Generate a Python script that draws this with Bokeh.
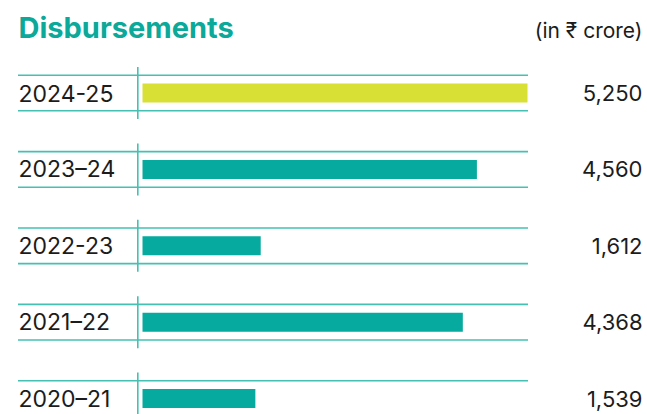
import numpy as np
from bokeh.plotting import figure
from bokeh.models import ColumnDataSource, Range1d, Label
from bokeh.core.properties import value
from bokeh.embed import file_html
from bokeh.resources import INLINE

# ---- data ----
years = ["2024-25", "2023–24", "2022-23", "2021–22", "2020–21"]
disbursements = [5250, 4560, 1612, 4368, 1539]
value_labels = [f"{v:,}" for v in disbursements]
title_text = "Disbursements"
unit_text = "(in ₹ crore)"

# ---- style / layout ----
TEAL = "#06aa9e"
YELLOW = "#d8e035"
LINE = "#45c0b3"
INK = "#1c1c1c"
FONT = "Inter"
bar_colors = [YELLOW] + [TEAL] * (len(years) - 1)

W, H = 647, 414
BAR_X0_PX, BAR_X1_PX = 142, 527      # pixel span of the largest bar
ROW_PX = 76.4                         # pixels per row
FIRST_ROW_PX = 92.5                   # canvas y of first row centre

scale = (BAR_X1_PX - BAR_X0_PX) / max(disbursements)   # px per unit
def xd(px):
    return (px - BAR_X0_PX) / scale

y_end = FIRST_ROW_PX / ROW_PX
y_start = y_end - H / ROW_PX
def yd(px_from_top):
    return y_end - px_from_top / ROW_PX

ypos = -np.arange(len(years), dtype=float)

src = ColumnDataSource(dict(
    y=ypos,
    val=disbursements,
    year=years,
    lab=value_labels,
    color=bar_colors,
    top=ypos + 17.8 / ROW_PX,
    bot=ypos - 17.8 / ROW_PX,
    vtop=ypos + 26 / ROW_PX,
    vbot=ypos - 26 / ROW_PX,
))

p = figure(width=W, height=H, output_backend="svg", toolbar_location=None,
           x_range=Range1d(xd(0), xd(W)), y_range=Range1d(y_start, y_end),
           x_axis_location=None, y_axis_location=None, min_border=0)
p.grid.visible = False
p.outline_line_color = None
p.background_fill_color = "white"
p.border_fill_color = "white"

# row rules
p.segment(x0=xd(17.5), x1=xd(527.5), y0="top", y1="top", source=src,
          line_color=LINE, line_width=1.6)
p.segment(x0=xd(17.5), x1=xd(527.5), y0="bot", y1="bot", source=src,
          line_color=LINE, line_width=1.6)
p.segment(x0=xd(137.3), x1=xd(137.3), y0="vbot", y1="vtop", source=src,
          line_color=LINE, line_width=1.6)

# bars
p.hbar(y="y", left=0, right="val", height=19 / ROW_PX, source=src,
       fill_color="color", line_color=None)

# year labels
p.text(x=xd(18), y="y", text="year", source=src, text_font=value(FONT),
       text_font_size="23px", text_color=INK, text_baseline="middle",
       text_align="left")
# values
p.text(x=xd(642), y="y", text="lab", source=src, text_font=value(FONT),
       text_font_size="22px", text_color=INK, text_baseline="middle",
       text_align="right")

p.add_layout(Label(x=xd(18), y=yd(27), text=title_text,
                   text_font=FONT, text_font_style="bold",
                   text_font_size="29px", text_color="#0aa99a",
                   text_baseline="alphabetic", text_align="left"))
p.add_layout(Label(x=xd(642), y=yd(30), text=unit_text,
                   text_font=FONT, text_font_size="21px",
                   text_color=INK, text_baseline="alphabetic",
                   text_align="right"))

open("out.html", "w").write(file_html(p, INLINE))
